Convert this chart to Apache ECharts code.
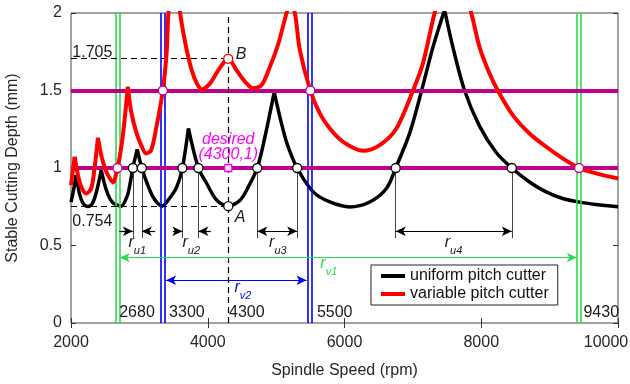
<!DOCTYPE html>
<html><head><meta charset="utf-8">
<script src="https://cdn.jsdelivr.net/npm/echarts@6/dist/echarts.min.js"></script>
<style>html,body{margin:0;padding:0;background:#fff}#c{width:630px;height:384px}</style>
</head><body><div id="c"></div>
<script>
// ---- data ----
const xTicks = [2000, 4000, 6000, 8000, 10000];
const yTicks = [0, 0.5, 1, 1.5, 2];

const uniformSpeed = [2000,2034,2077,2121,2180,2248,2311,2369,2442,2515,2603,2734,2822,2860,2905,2968,3036,3114,3204,3333,3450,3547,3629,3717,3863,3985,4131,4300,4472,4593,4724,4836,4972,5055,5158,5308,5542,5785,6077,6369,6613,6749,6953,7128,7294,7464,7585,7756,7975,8219,8447,8705,8949,9191,9435,9679,10000];
const uniformDepth = [0.78,0.85,0.954,0.84,0.77,0.752,0.77,0.84,0.986,0.86,0.78,0.754,0.82,0.89,1.0,1.12,1.0,0.9,0.81,0.754,0.81,0.878,1.0,1.255,1.0,0.9,0.792,0.754,0.792,0.878,1.0,1.2,1.49,1.33,1.16,1.0,0.846,0.781,0.749,0.781,0.868,1.0,1.225,1.5,1.78,2.02,1.78,1.5,1.27,1.1,1.0,0.91,0.846,0.803,0.78,0.765,0.75];
const uniformCusps = [2077, 2442, 2968, 3717, 4972, 7464];

const variableSpeed = [2000,2053,2102,2150,2223,2296,2345,2394,2442,2491,2540,2613,2680,2709,2759,2832,2880,2953,3026,3099,3172,3245,3343,3401,3425,3508,3596,3644,3693,3766,3839,3912,4034,4155,4253,4300,4423,4545,4666,4788,4909,5031,5153,5209,5274,5347,5500,5639,5785,5980,6272,6515,6759,7002,7147,7318,7581,7854,7975,8121,8242,8461,8705,8949,9191,9430,9679,10000];
const variableDepth = [0.889,1.072,0.954,0.878,0.836,0.868,1.0,1.195,1.083,1.007,0.954,0.907,1.0,1.062,1.212,1.524,1.363,1.233,1.148,1.094,1.115,1.255,1.5,1.76,2.0,2.3,2.0,1.87,1.76,1.63,1.547,1.507,1.546,1.632,1.69,1.705,1.63,1.556,1.514,1.535,1.653,1.80,2.0,2.06,2.0,1.76,1.5,1.352,1.255,1.169,1.111,1.148,1.255,1.5,1.675,2.0,2.4,2.0,1.78,1.61,1.5,1.341,1.223,1.137,1.062,1.0,0.965,0.932];
const variableCusps = [2053, 2394, 2832];

const targetDepths = [1, 1.5];
const greenSpeeds = [2680, 9430];
const blueSpeeds = [3345, 5495];
const speedLabels = ['2680', '3300', '4300', '5500', '9430'];
const speedLabelAt = [2705, 3435, 4311, 5596, 9495];
const uniformCross = [2905, 3036, 3629, 3863, 4724, 5308, 6749, 8447];
const variableCross = [[2680, 1], [3343, 1.5], [5500, 1.5], [9430, 1]];
const pointA = [4300, 0.754];
const pointB = [4300, 1.705];
const desired = [4300, 1];

// ---- build ----
const FONT = 'Liberation Sans, Arial, sans-serif';
function lobes(xs, ys, cusps) {
  const out = []; let cur = [];
  xs.forEach((x, i) => {
    cur.push([x, ys[i]]);
    if (cusps.includes(x)) { out.push(cur); cur = [[x, ys[i]]]; }
  });
  if (cur.length > 1) out.push(cur);
  return out;
}
function ml(z, lineStyle, data) {
  return { type: 'line', data: [], z: z, silent: true,
    markLine: { silent: true, symbol: ['none', 'none'], symbolSize: [7, 10], label: { show: false },
      lineStyle: lineStyle, data: data, animation: false, emphasis: { disabled: true } } };
}
const GAP = 32;
const series = [];
series.push(ml(1, { color: '#2fd84f', width: 1.6, type: 'solid' },
  greenSpeeds.flatMap(s => [{ xAxis: s - GAP }, { xAxis: s + GAP }])));
series.push(ml(1, { color: '#0000ff', width: 1.6, type: 'solid' },
  blueSpeeds.flatMap(s => [{ xAxis: s - GAP }, { xAxis: s + GAP }])));
series.push(ml(2, { color: '#c0008c', width: 4, type: 'solid' }, targetDepths.map(d => ({ yAxis: d }))));
series.push(ml(3, { color: '#000', width: 1.2, type: [6, 4] }, [
  [{ coord: [2000, pointB[1]] }, { coord: pointB }],
  [{ coord: [2000, pointA[1]] }, { coord: pointA }],
  [{ coord: [pointA[0], 0] }, { coord: [pointA[0], 2] }]
]));
const yArrow = 0.592, yDrop = 0.547;
series.push(ml(3, { color: '#444', width: 1, type: 'solid' },
  uniformCross.map(s => [{ coord: [s, 1] }, { coord: [s, yDrop] }])));
const arrowPair = (a, b, y, sa, sb) => [{ coord: [a, y], symbol: sa }, { coord: [b, y], symbol: sb }];
series.push(ml(6, { color: '#000', width: 1.2, type: 'solid' }, [
  arrowPair(2705, uniformCross[0], yArrow, 'none', 'arrow'),
  arrowPair(3231, uniformCross[1], yArrow, 'none', 'arrow'),
  arrowPair(3489, uniformCross[2], yArrow, 'none', 'arrow'),
  arrowPair(4044, uniformCross[3], yArrow, 'none', 'arrow'),
  arrowPair(uniformCross[4], uniformCross[5], yArrow, 'arrow', 'arrow'),
  arrowPair(uniformCross[6], uniformCross[7], yArrow, 'arrow', 'arrow')
]));
series.push(ml(6, { color: '#2fd84f', width: 1.2, type: 'solid' }, [
  arrowPair(greenSpeeds[0] + GAP, greenSpeeds[1] - GAP, 0.422, 'arrow', 'arrow')]));
series.push(ml(6, { color: '#0000ff', width: 1.2, type: 'solid' }, [
  arrowPair(blueSpeeds[0] + GAP + 14, blueSpeeds[1] - GAP - 18, 0.276, 'arrow', 'arrow')]));

lobes(uniformSpeed, uniformDepth, uniformCusps).forEach(d => series.push({
  name: 'uniform pitch cutter', type: 'line', data: d, smooth: 0.3, showSymbol: false, z: 4,
  color: '#000', lineStyle: { color: '#000', width: 3.5 }, clip: true, silent: true }));
lobes(variableSpeed, variableDepth, variableCusps).forEach(d => series.push({
  name: 'variable pitch cutter', type: 'line', data: d, smooth: 0.3, showSymbol: false, z: 5,
  color: '#ff0000', lineStyle: { color: '#ff0000', width: 4 }, clip: true, silent: true }));

const mk = (border, symbol, size, data) => ({ type: 'scatter', z: 10, symbol: symbol, symbolSize: size, silent: true,
  itemStyle: { color: '#fff', borderColor: border, borderWidth: 1.3, opacity: 1 }, data: data });
series.push(mk('#000', 'circle', 9, uniformCross.map(s => [s, 1]).concat([pointA])));
series.push(mk('#c0008c', 'circle', 9, variableCross));
series.push(mk('#ff0000', 'circle', 9, [pointB]));
series.push(mk('#ff00ff', 'rect', 7, [desired]));

const rich = {
  r: { fontFamily: FONT, fontSize: 16, fontStyle: 'italic', lineHeight: 22, verticalAlign: 'top' },
  s: { fontFamily: FONT, fontSize: 11, fontStyle: 'italic', lineHeight: 22, verticalAlign: 'bottom' }
};
function colored(c) { return { r: Object.assign({}, rich.r, { color: c }), s: Object.assign({}, rich.s, { color: c }) }; }
function txt(x, y, text, opts) {
  return { value: [x, y], label: Object.assign({ show: true, formatter: text, position: 'inside',
    align: 'left', verticalAlign: 'middle', fontFamily: FONT, fontSize: 16, color: '#1a1a1a', opacity: 1, rich: colored('#1a1a1a') }, opts || {}) };
}
const texts = [
  txt(2019, 1.742, String(pointB[1])),
  txt(2019, 0.652, String(pointA[1])),
  txt(4486, 1.729, 'B', { align: 'center', fontStyle: 'italic' }),
  txt(4474, 0.683, 'A', { align: 'center', fontStyle: 'italic' }),
  txt(4300, 1.135, 'desired\n(' + desired[0] + ',' + desired[1] + ')', { align: 'center', fontStyle: 'italic', color: '#ff00ff', lineHeight: 15 }),
  txt(2970, 0.50, '{r|r}{s|u1}', { align: 'center' }),
  txt(3759, 0.50, '{r|r}{s|u2}', { align: 'center' }),
  txt(5026, 0.50, '{r|r}{s|u3}', { align: 'center' }),
  txt(7595, 0.50, '{r|r}{s|u4}', { align: 'center' }),
  txt(5770, 0.362, '{r|r}{s|v1}', { align: 'center', rich: colored('#2fd84f') }),
  txt(4515, 0.211, '{r|r}{s|v2}', { align: 'center', rich: colored('#0000ff') })
].concat(speedLabels.map((t, i) => txt(speedLabelAt[i], 0.069, t)));
series.push({ type: 'scatter', z: 11, symbolSize: 1, silent: true, itemStyle: { color: 'rgba(0,0,0,0)', opacity: 1 }, data: texts });

const tickStyle = { show: true, inside: true, length: 5, lineStyle: { color: '#333', width: 1 } };
const xMax = xTicks[xTicks.length - 1];
const option = {
  animation: false,
  backgroundColor: '#fff',
  grid: { left: 71, right: 12, top: 13, bottom: 61, show: true, borderColor: '#444', borderWidth: 1,
    backgroundColor: 'transparent', containLabel: false, outerBoundsMode: 'none' },
  legend: {
    data: [{ name: 'uniform pitch cutter', icon: 'rect' }, { name: 'variable pitch cutter', icon: 'rect' }],
    orient: 'vertical', left: 371, top: 265, itemWidth: 24, itemHeight: 4, itemGap: 2, itemTextGap: 8,
    padding: [3, 9, 3, 10], borderColor: '#222', borderWidth: 1, backgroundColor: '#fff',
    textStyle: { fontFamily: FONT, fontSize: 16, color: '#111' }, selectedMode: false
  },
  xAxis: [
    { type: 'value', min: xTicks[0], max: xMax, interval: xTicks[1] - xTicks[0],
      axisLine: { show: false }, axisTick: tickStyle, splitLine: { show: false },
      axisLabel: { fontFamily: FONT, fontSize: 16, color: '#262626', margin: 12,
        formatter: v => v === xMax ? '{m|' + v + '}' : String(v),
        rich: { m: { fontFamily: FONT, fontSize: 16, color: '#262626', padding: [0, 24, 0, 0] } } },
      name: 'Spindle Speed (rpm)', nameLocation: 'middle', nameGap: 40,
      nameTextStyle: { fontFamily: FONT, fontSize: 16, color: '#262626' } },
    { type: 'value', position: 'top', min: xTicks[0], max: xMax, interval: xTicks[1] - xTicks[0],
      axisLine: { show: false }, axisTick: tickStyle, splitLine: { show: false }, axisLabel: { show: false } }
  ],
  yAxis: [
    { type: 'value', min: yTicks[0], max: yTicks[yTicks.length - 1], interval: yTicks[1] - yTicks[0],
      axisLine: { show: false }, axisTick: tickStyle, splitLine: { show: false },
      axisLabel: { fontFamily: FONT, fontSize: 16, color: '#262626', margin: 9, formatter: v => String(v) },
      name: 'Stable Cutting Depth (mm)', nameLocation: 'middle', nameGap: 50, nameRotate: 90,
      nameTextStyle: { fontFamily: FONT, fontSize: 16, color: '#262626' } },
    { type: 'value', position: 'right', min: yTicks[0], max: yTicks[yTicks.length - 1], interval: yTicks[1] - yTicks[0],
      axisLine: { show: false }, axisTick: tickStyle, splitLine: { show: false }, axisLabel: { show: false } }
  ],
  series: series
};
const chart = echarts.init(document.getElementById('c'), null, { renderer: 'canvas' });
chart.setOption(option);
</script></body></html>
